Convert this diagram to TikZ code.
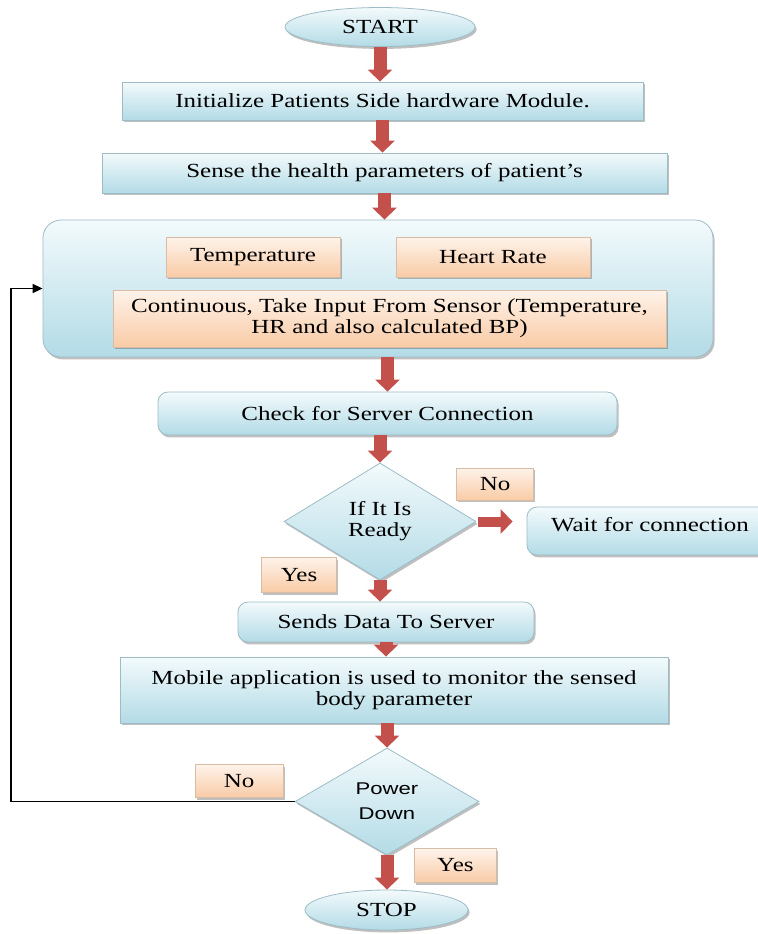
\documentclass[tikz,border=0pt]{standalone}
\usepackage{fontspec}
\setmainfont{Liberation Serif}[FakeStretch=1.25]
\newfontfamily\pdsans{Liberation Sans}[FakeStretch=1.3]
\usetikzlibrary{shapes.geometric, arrows.meta, shadows, positioning}

\definecolor{boxtop}{HTML}{F3FAFC}
\definecolor{boxbot}{HTML}{B3DBE6}
\definecolor{boxline}{HTML}{9DBCC6}
\definecolor{lbltop}{HTML}{FEF3EA}
\definecolor{lblbot}{HTML}{F9CBA6}
\definecolor{lblline}{HTML}{D8BCA5}
\definecolor{flowred}{HTML}{C4504C}

\tikzset{
  boxshadow/.style={drop shadow={shadow xshift=0.8pt, shadow yshift=-1.2pt, fill=black, opacity=0.25}},
  bluebox/.style={draw=boxline, line width=0.4pt, top color=boxtop, bottom color=boxbot, boxshadow, inner sep=2pt, align=center},
  roundbox/.style={bluebox, rounded corners=5pt},
  endcap/.style={ellipse, bluebox, inner sep=0pt},
  decision/.style={diamond, aspect=1.6, bluebox, inner sep=0pt},
  lblbox/.style={draw=lblline, line width=0.4pt, top color=lbltop, bottom color=lblbot, boxshadow, inner sep=1pt, align=center},
  redarrow/.style={draw=flowred, line width=6.5pt, -{Triangle[width=12pt, length=6pt]}},
  loopline/.style={draw=black, line width=0.8pt, -{Triangle[width=4.5pt, length=5pt]}}
}

\begin{document}
\begin{tikzpicture}[x=0.5pt, y=-0.5pt, every node/.style={font=\fontsize{10}{10.5}\selectfont}]
    \useasboundingbox (0,0) rectangle (758,934);

    % Start and first steps
    \node[endcap, minimum width=95pt, minimum height=19.5pt] (start) at (380,27) {START};
    \node[bluebox, minimum width=260.5pt, minimum height=19pt] (init) at (382.5,101) {Initialize Patients Side hardware Module.};
    \node[bluebox, minimum width=282.5pt, minimum height=20pt] (sense) at (384.5,173) {Sense the health parameters of patient's};

    % Sensor block
    \node[bluebox, rounded corners=9pt, minimum width=335pt, minimum height=68.5pt] (sensors) at (378,288.5) {};
    \node[lblbox, minimum width=87pt, minimum height=20pt] (temp) at (253,257) {Temperature};
    \node[lblbox, minimum width=97pt, minimum height=20pt] (hr) at (493,257) {Heart Rate};
    \node[lblbox, minimum width=276.5pt, minimum height=28.5pt] (input) at (389.5,318.5) {Continuous, Take Input From Sensor (Temperature,\\HR and also calculated BP)};

    % Server check
    \node[roundbox, minimum width=229.5pt, minimum height=21.5pt] (check) at (387.5,413.5) {Check for Server Connection};
    \node[decision, minimum width=96pt, minimum height=58.5pt] (ready) at (380,521.5) {If It Is\\Ready};
    \node[roundbox, minimum width=123pt, minimum height=24pt, text height=7pt, text depth=7pt] (wait) at (650,531) {Wait for connection};

    % Ready labels
    \node[lblbox, minimum width=38.5pt, minimum height=16pt, right=14pt of ready.north east, yshift=4pt] (no1) {No};
    \node[lblbox, minimum width=37.5pt, minimum height=17.5pt, left=21.5pt of ready.south, yshift=2.75pt] (yes1) {Yes};

    % Sending and monitoring
    \node[roundbox, minimum width=148pt, minimum height=20pt] (sends) at (386,622) {Sends Data To Server};
    \node[bluebox, minimum width=274pt, minimum height=33pt] (mobile) at (394,690) {Mobile application is used to monitor the sensed\\body parameter};

    % Power down and stop
    \node[decision, font=\pdsans\fontsize{8.5}{12.5}\selectfont, minimum width=92pt, minimum height=53.5pt] (power) at (387,801.5) {Power\\Down};
    \node[lblbox, minimum width=44pt, minimum height=16.5pt, above left=1.75pt and 5.5pt of power.west] (no2) {No};
    \node[lblbox, minimum width=41pt, minimum height=17pt, right=13.5pt of power.south, yshift=-5pt] (yes2) {Yes};
    \node[endcap, minimum width=81.5pt, minimum height=20pt] (stop) at (386.5,910) {STOP};
    \coordinate (back) at (11,0);

    % Flow arrows
    \draw[redarrow] (start.south) -- (start.south |- init.north);
    \draw[redarrow] (init.south) -- (init.south |- sense.north);
    \draw[redarrow] (sense.south) -- (sense.south |- sensors.north);
    \draw[redarrow] (sensors.south -| check.north) -- (check.north);
    \draw[redarrow] (check.south -| ready.north) -- (ready.north);
    \draw[redarrow, line width=5pt, shorten <=1pt, shorten >=7pt] (ready.east) -- (ready.east -| wait.west);
    \draw[redarrow] (ready.south) -- (ready.south |- sends.north);
    \draw[redarrow] (sends.south) -- (sends.south |- mobile.north);
    \draw[redarrow] (mobile.south -| power.north) -- (power.north);
    \draw[redarrow] (power.south) -- (power.south |- stop.north);

    % Loop back
    \draw[loopline] (power.west) -- (power.west -| back) |- (sensors.west);
\end{tikzpicture}
\end{document}
